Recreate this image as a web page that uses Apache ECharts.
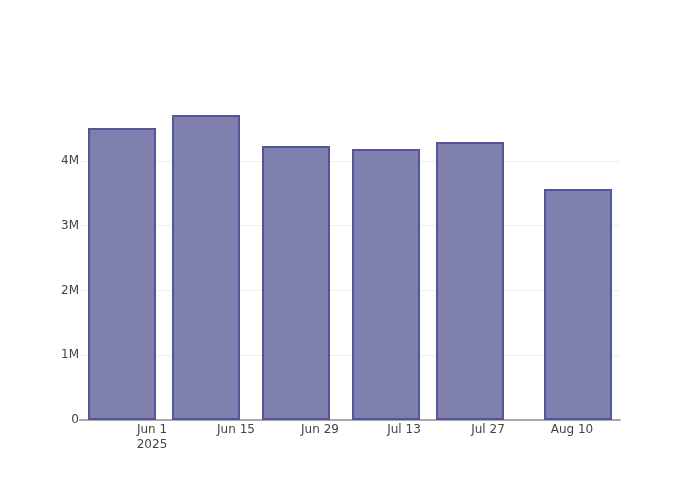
<!DOCTYPE html>
<html>
<head>
<meta charset="utf-8">
<script src="https://cdn.jsdelivr.net/npm/echarts@6/dist/echarts.min.js"></script>
<style>
  html, body { margin: 0; padding: 0; background: #fff; }
  #chart { width: 700px; height: 500px; }
</style>
</head>
<body>
<div id="chart"></div>
<script>
// bar dates and values
const barDates = ["2025-05-27", "2025-06-10", "2025-06-25", "2025-07-10", "2025-07-24", "2025-08-11"];
const barValues = [4508000, 4710000, 4230000, 4184000, 4292000, 3566000];

// x tick positions, every two weeks
const xTickDates = ["2025-06-01", "2025-06-15", "2025-06-29", "2025-07-13", "2025-07-27", "2025-08-10"];
const xRange = ["2025-05-20", "2025-08-18"];
const yTicks = [0, 1000000, 2000000, 3000000, 4000000];
const yMax = 4940000;

const monthNames = ["Jan", "Feb", "Mar", "Apr", "May", "Jun", "Jul", "Aug", "Sep", "Oct", "Nov", "Dec"];

// parse yyyy-mm-dd as local midnight
const toTime = (s) => {
  const [y, m, d] = s.split("-").map(Number);
  return new Date(y, m - 1, d).getTime();
};

const chart = echarts.init(document.getElementById("chart"));
const firstTick = toTime(xTickDates[0]);

const option = {
  animation: false,
  textStyle: { fontFamily: "DejaVu Sans" },
  grid: { left: 80, right: 80, top: 100, bottom: 80 },
  xAxis: {
    // plain value axis holding timestamps, labels placed by hand
    type: "value",
    min: toTime(xRange[0]),
    max: toTime(xRange[1]),
    axisLine: { show: true, onZero: false, lineStyle: { color: "#a8a8a8", width: 2 } },
    axisTick: { show: false },
    splitLine: { show: false },
    axisLabel: {
      customValues: xTickDates.map(toTime),
      color: "#444",
      fontSize: 12,
      margin: 2,
      lineHeight: 15,
      formatter: function (value) {
        const d = new Date(value);
        const txt = monthNames[d.getMonth()] + " " + d.getDate();
        return value === firstTick ? txt + "\n" + d.getFullYear() : txt;
      },
    },
  },
  yAxis: {
    type: "value",
    min: 0,
    max: yMax,
    axisLine: { show: false },
    axisTick: { show: false },
    splitLine: { show: false },
    axisLabel: {
      customValues: yTicks,
      color: "#444",
      fontSize: 12,
      margin: 1,
      verticalAlign: "middle",
      padding: [6, 0, 0, 0],
      formatter: function (v) {
        return v === 0 ? "0" : v / 1000000 + "M";
      },
    },
  },
  series: [
    {
      type: "bar",
      barWidth: 68,
      data: barDates.map((d, i) => [toTime(d), barValues[i]]),
      itemStyle: {
        color: "#7f7fae",
        borderColor: "#55559a",
        borderWidth: 2,
      },
      // light horizontal grid at the y ticks
      markLine: {
        silent: true,
        symbol: "none",
        label: { show: false },
        lineStyle: { color: "#eeeeee", width: 1, type: "solid" },
        z: 0,
        data: yTicks.filter((v) => v > 0).map((v) => ({ yAxis: v })),
      },
    },
  ],
};

chart.setOption(option);
</script>
</body>
</html>
